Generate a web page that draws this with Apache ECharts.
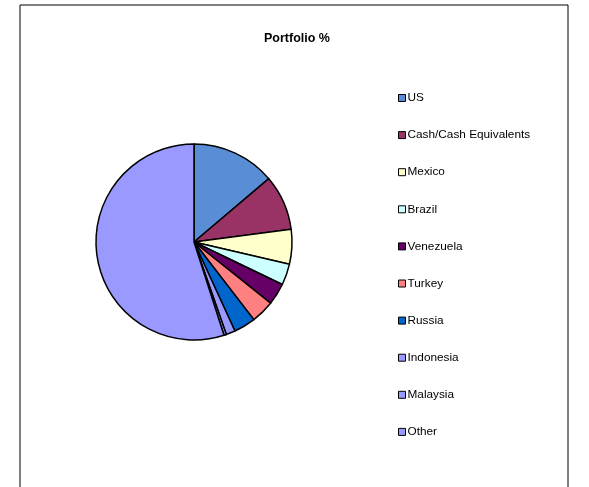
<!DOCTYPE html>
<html><head><meta charset="utf-8">
<script src="https://cdn.jsdelivr.net/npm/echarts@6/dist/echarts.min.js"></script>
<style>html,body{margin:0;padding:0;background:#fff}#c{width:589px;height:487px}</style>
</head><body><div id="c"></div>
<script>
const categories = ['US','Cash/Cash Equivalents','Mexico','Brazil','Venezuela','Turkey','Russia','Indonesia','Malaysia','Other'];
const values = [13.8, 9.1, 5.7, 3.5, 3.6, 3.8, 3.6, 1.5, 0.4, 54.9];
const colors = ['#598ED6','#993366','#FFFFCC','#CCFFFF','#660066','#FF8080','#0066CC','#9999FF','#9999FF','#9999FF'];
const chart = echarts.init(document.getElementById('c'));
chart.setOption({
  animation:false,
  backgroundColor:'#fff',
  graphic:[{type:'rect',shape:{x:20,y:5,width:548,height:500},style:{fill:'none',stroke:'#000',lineWidth:1}}],
  title:{text:'Portfolio %',left:292,top:27,textAlign:'center',textStyle:{fontFamily:'Liberation Sans, Arial',fontSize:12.5,fontWeight:'bold',color:'#000'}},
  legend:{orient:'vertical',left:393,top:87,itemWidth:7,itemHeight:7,itemGap:25.1,icon:'rect',
    textStyle:{fontFamily:'Liberation Sans, Arial',fontSize:11.8,color:'#000',lineHeight:12,padding:[0,0,0,-3]},
    itemStyle:{borderColor:'#000',borderWidth:1},
    data:categories},
  series:[{type:'pie',center:[194,242],radius:[0,98],startAngle:90,clockwise:true,
    label:{show:false},labelLine:{show:false},emphasis:{disabled:true},
    itemStyle:{borderColor:'#000',borderWidth:1.5},
    data:categories.map((n,i)=>({name:n,value:values[i],itemStyle:{color:colors[i]}}))}]
});
</script></body></html>
